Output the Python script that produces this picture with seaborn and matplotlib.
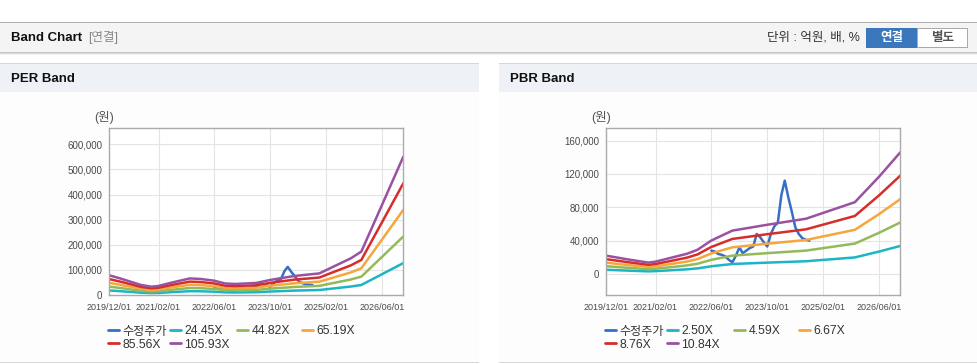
import numpy as np
import pandas as pd
import seaborn as sns
import matplotlib.pyplot as plt
import matplotlib.dates as mdates
from matplotlib.patches import Rectangle
from matplotlib.lines import Line2D

# ---- data ----
price_dates = pd.date_range("2022-06-01", "2024-10-01", freq="MS")
price = [28000, 27000, 24000, 23000, 21000, 17000, 14000, 22000, 32000, 25000,
         28000, 31000, 33000, 48000, 44000, 38000, 33000, 48000, 57000, 62000,
         95000, 112000, 92000, 75000, 56000, 48000, 43000, 41000, 40000]

eps_dates = ["2019-12-01", "2020-03-01", "2020-09-01", "2020-12-01", "2021-02-01",
             "2021-06-01", "2021-11-01", "2022-02-01", "2022-06-01", "2022-09-01",
             "2022-12-01", "2023-06-01", "2023-10-01", "2024-05-01", "2024-12-01",
             "2025-03-01", "2025-09-01", "2025-12-01", "2026-06-01", "2026-12-01"]
eps = [740, 628, 378, 312, 340, 472, 623, 604, 538, 434,
       415, 453, 566, 717, 812, 1000, 1380, 1633, 3408, 5200]
per_mult = [24.45, 44.82, 65.19, 85.56, 105.93]

bps_dates = ["2019-12-01", "2020-06-01", "2020-12-01", "2021-02-01", "2021-11-01",
             "2022-02-01", "2022-06-01", "2022-12-01", "2023-10-01", "2024-09-01",
             "2025-11-01", "2026-06-01", "2026-12-01"]
bps = [2030, 1624, 1260, 1365, 2236, 2680, 3700, 4800, 5450, 6115,
       7950, 10793, 13469]
pbr_mult = [2.50, 4.59, 6.67, 8.76, 10.84]

x_ticks = ["2019/12/01", "2021/02/01", "2022/06/01", "2023/10/01", "2025/02/01", "2026/06/01"]
colors = ["#3570c2", "#1db5c6", "#92ba59", "#f5a63c", "#d72d2a", "#9a519f"]

W, H = 978, 364
sns.set_theme(style="white")
plt.rcParams["font.family"] = ["Liberation Sans", "Noto Sans CJK KR"]
fig = plt.figure(figsize=(W / 100, H / 100), dpi=100)
fig.patch.set_facecolor("white")


def box(x, y, w, h, **kw):
    fig.add_artist(Rectangle((x / W, 1 - (y + h) / H), w / W, h / H,
                             transform=fig.transFigure, lw=0, zorder=-5, **kw))


def ftext(x, y, s, **kw):
    fig.text(x / W, 1 - y / H, s, va="center", **kw)


# page header
box(0, 22, W, 1, color="#b0b0b0")
box(0, 23, W, 29, color="#f4f4f4")
box(0, 52, W, 1, color="#c2c2c2")
box(0, 53, W, 1, color="#dedede")
box(0, 54, W, 1, color="#efefef")
ftext(11, 38, "Band Chart", fontsize=9.5, fontweight="bold", color="#111111")
ftext(88, 38, "[연결]", fontsize=9, color="#888888")
ftext(860, 38, "단위 : 억원, 배, %", fontsize=9, color="#333333", ha="right")
box(866, 28, 51, 20, color="#3a77bd")
box(917, 28, 51, 20, color="#aaaaaa")
box(918, 29, 49, 18, color="white")
ftext(891.5, 38, "연결", fontsize=9, fontweight="bold", color="white", ha="center")
ftext(942.5, 38, "별도", fontsize=9, fontweight="bold", color="#555555", ha="center")

# panels
for px, title in [(0, "PER Band"), (499, "PBR Band")]:
    box(px, 63, 479, 1, color="#d6d6d6")
    box(px, 64, 479, 28, color="#eef2f7")
    box(px, 92, 479, 270, color="#fdfdfd")
    box(px, 362, 479, 1, color="#d6d6d6")
    ftext(px + 11, 79, title, fontsize=9.5, fontweight="bold", color="#111111")


def band_frame(base_dates, base, mults):
    rows = [pd.DataFrame({"date": price_dates, "value": price, "series": "수정주가"})]
    for m in mults:
        rows.append(pd.DataFrame({"date": pd.to_datetime(base_dates),
                                  "value": np.array(base) * m,
                                  "series": f"{m:.2f}X"}))
    return pd.concat(rows, ignore_index=True)


def draw(left_px, df, ylim, yticks):
    ax = fig.add_axes([left_px / W, 1 - 295 / H, 294 / W, 166.7 / H])
    ax.set_facecolor("white")
    order = list(dict.fromkeys(df["series"]))
    pal = dict(zip(order, colors))
    sns.lineplot(data=df, x="date", y="value", hue="series", hue_order=order,
                 palette=pal, linewidth=1.8, estimator=None, legend=False, ax=ax)
    ax.set_xlim(pd.Timestamp("2019-12-01"), pd.Timestamp("2026-12-01"))
    ax.set_xticks(pd.to_datetime(x_ticks))
    ax.xaxis.set_major_formatter(mdates.DateFormatter("%Y/%m/%d"))
    ax.set_ylim(*ylim)
    ax.set_yticks(yticks)
    ax.set_yticklabels([f"{v:,}" for v in yticks])
    ax.grid(True, color="#e4e4e4", lw=0.8)
    ax.set_axisbelow(True)
    for s in ax.spines.values():
        s.set_color("#aaaaaa")
        s.set_linewidth(1)
    ax.tick_params(axis="y", length=3, width=0.8, color="#aaaaaa", pad=2,
                   labelsize=7, labelcolor="#4a4a4a")
    ax.tick_params(axis="x", length=3, width=0.8, color="#aaaaaa", pad=3,
                   labelsize=6.5, labelcolor="#4a4a4a")
    ax.set_xlabel("")
    ax.set_ylabel("")
    ftext(left_px - 5, 117, "(원)", fontsize=9, color="#555555", ha="center")

    handles = [Line2D([], [], color=c, lw=2) for c in colors]
    for i, off in enumerate([0, 62, 129, 194]):
        fig.legend(handles[i::4], order[i::4], loc="upper left",
                   bbox_to_anchor=((left_px - 1 + off) / W, 1 - 325.5 / H),
                   frameon=False, borderpad=0, borderaxespad=0,
                   handlelength=0.85, handletextpad=0.3, labelspacing=0.1,
                   fontsize=8.7, labelcolor="#333333")
    return ax


draw(109.3, band_frame(eps_dates, eps, per_mult), (0, 664000),
     [0, 100000, 200000, 300000, 400000, 500000, 600000])
draw(606.3, band_frame(bps_dates, bps, pbr_mult), (-25200, 174800),
     [0, 40000, 80000, 120000, 160000])

fig.savefig("out.png", dpi=100)
